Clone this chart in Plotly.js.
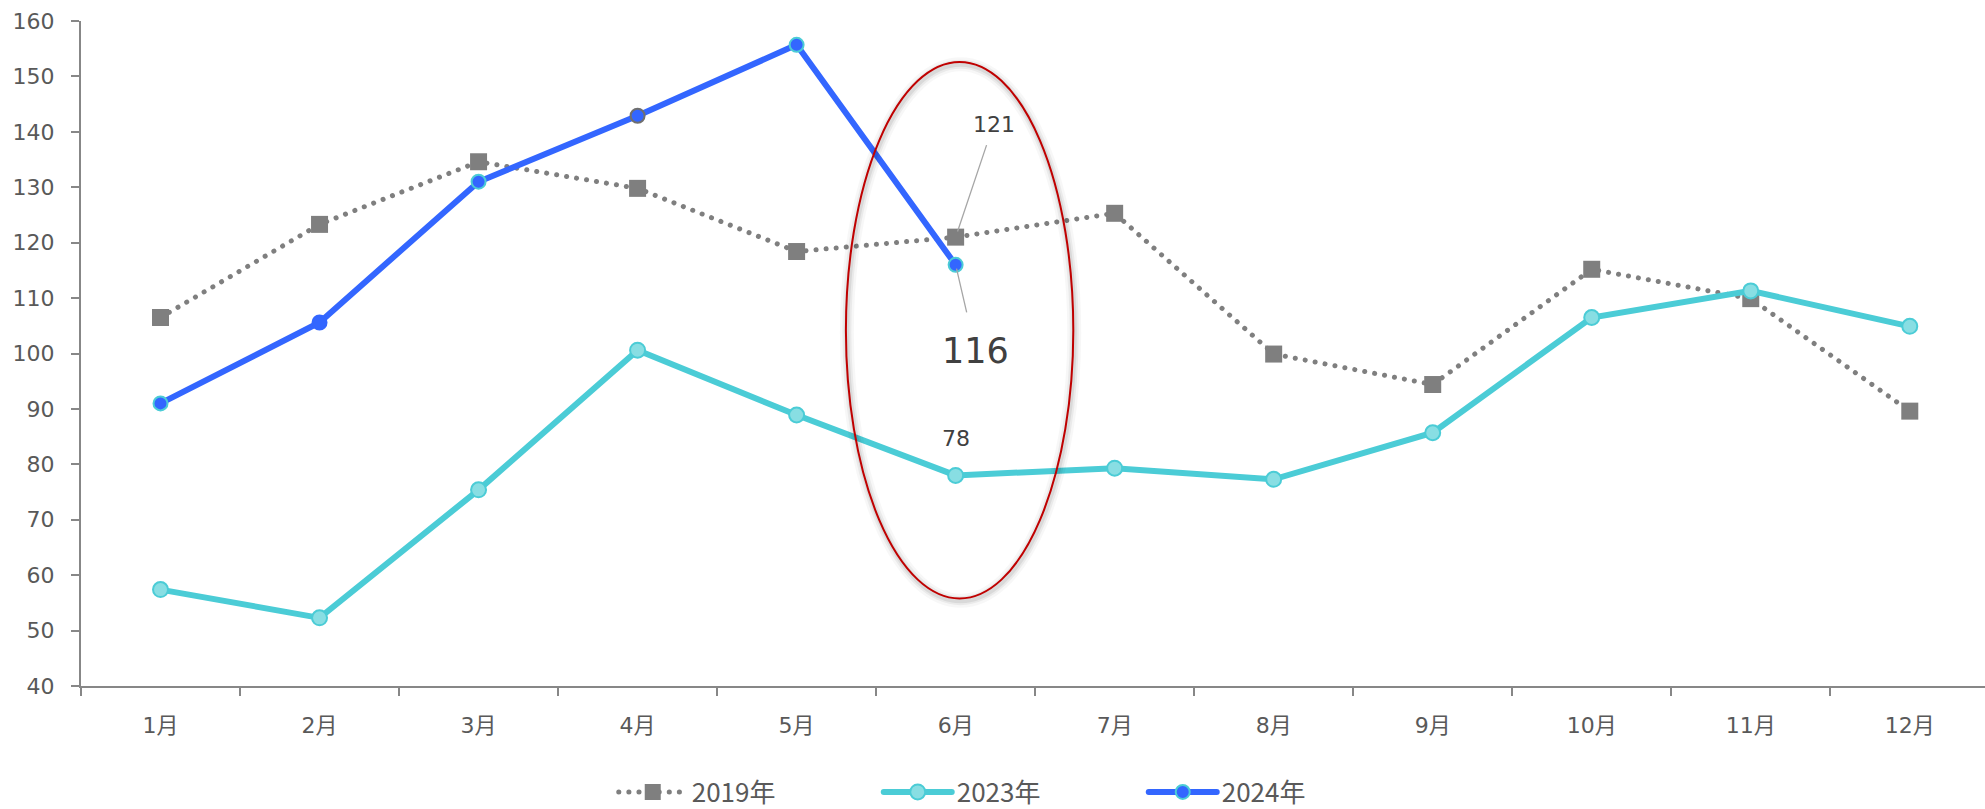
<!DOCTYPE html>
<html><head><meta charset="utf-8">
<script src="https://cdn.plot.ly/plotly-3.0.1.min.js"></script>
<style>
html,body{margin:0;padding:0;background:#fff;overflow:hidden}
#chart{width:1985px;height:809px}
.js-line{stroke-linecap:round}
</style></head><body><div id="chart"></div>
<script>
const months = ['1月','2月','3月','4月','5月','6月','7月','8月','9月','10月','11月','12月'];
const s2019 = [106.5,123.3,134.6,129.8,118.4,121,125.3,99.9,94.4,115.2,109.9,89.6];
const s2023 = [57.4,52.3,75.4,100.6,88.9,78,79.3,77.3,85.7,106.5,111.3,104.9];
const s2024 = [91,105.6,131,142.9,155.7,116];
const seriesNames = ['2019年','2023年','2024年'];
const yTicks = [40,50,60,70,80,90,100,110,120,130,140,150,160];

const FONT = 'DejaVu Sans, Verdana, Noto Sans CJK JP, sans-serif';
const hi = 5; // index of 6月 highlighted

const traces = [
  {x: months, y: s2019, name: seriesNames[0], type:'scatter', mode:'lines+markers',
   line:{color:'#7F7F7F', width:5, dash:'0.1px,10px'},
   marker:{symbol:'square', size:17, color:'#7F7F7F'}},
  {x: months, y: s2023, name: seriesNames[1], type:'scatter', mode:'lines+markers',
   line:{color:'#4BCCD6', width:6},
   marker:{symbol:'circle', size:15, color:'#88DEE3', line:{color:'#4BCCD6', width:2}}},
  {x: months.slice(0, s2024.length), y: s2024, name: seriesNames[2], type:'scatter', mode:'lines+markers',
   line:{color:'#3366FF', width:6},
   marker:{symbol:'circle', size:14, color:'#3366FF',
     line:{color:['#4BCCD6','#3366FF','#4BCCD6','#6F6F6F','#4BCCD6','#4BCCD6'], width:2}}}
];

const ell = {x0:4.31, x1:5.74, y0:55.8, y1:152.6};
const shapes = [];
[[14,'rgba(0,0,0,0.03)'],[9,'rgba(0,0,0,0.05)'],[5,'rgba(0,0,0,0.07)']].forEach(([w,c])=>{
  shapes.push({type:'circle', xref:'x', yref:'y', x0:ell.x0+0.006, x1:ell.x1+0.006, y0:ell.y0-0.4, y1:ell.y1-0.4,
    line:{color:c, width:w}, layer:'above'});
});
shapes.push({type:'circle', xref:'x', yref:'y', x0:ell.x0, x1:ell.x1, y0:ell.y0, y1:ell.y1,
  line:{color:'#C00000', width:2}, layer:'above'});

const layout = {
  width:1985, height:809,
  margin:{l:81, r:0, t:21, b:123, autoexpand:false},
  paper_bgcolor:'#fff', plot_bgcolor:'#fff',
  font:{family:FONT, color:'#595959', size:22},
  showlegend:true,
  legend:{orientation:'h', x:0.2798, xanchor:'left', y:-0.1594, yanchor:'middle',
    font:{family:'Noto Sans CJK JP, sans-serif', size:26, color:'#595959'},
    itemwidth:68, entrywidth:182, entrywidthmode:'pixels', bgcolor:'rgba(0,0,0,0)',
    tracegroupgap:0},
  xaxis:{type:'category', range:[-0.5, 11.473], showgrid:false, zeroline:false,
    showline:true, linecolor:'#878787', linewidth:2,
    ticks:'outside', tickson:'boundaries', ticklen:8, tickwidth:2, tickcolor:'#878787',
    ticklabelstandoff:19, tickfont:{family:FONT, size:22, color:'#595959'}},
  yaxis:{range:[40,160], tickvals:yTicks, showgrid:false, zeroline:false,
    showline:true, linecolor:'#878787', linewidth:2,
    ticks:'outside', ticklen:8, tickwidth:2, tickcolor:'#878787',
    ticklabelstandoff:12, tickfont:{family:FONT, size:22, color:'#595959'}},
  shapes: shapes,
  annotations:[
    {x:months[hi], y:s2019[hi], xref:'x', yref:'y', text:String(s2019[hi]),
     showarrow:true, arrowhead:0, arrowwidth:1.3, arrowcolor:'#A6A6A6', ax:38, ay:-113,
     standoff:6, borderpad:8, font:{family:FONT, size:22, color:'#404040'}},
    {x:months[hi], y:s2024[hi], xref:'x', yref:'y', text:String(s2024[hi]),
     showarrow:true, arrowhead:0, arrowwidth:1.3, arrowcolor:'#A6A6A6', ax:20, ay:86,
     standoff:4, borderpad:18, font:{family:FONT, size:35, color:'#404040'}},
    {x:months[hi], y:s2023[hi], xref:'x', yref:'y', text:String(s2023[hi]),
     showarrow:false, yshift:37, font:{family:FONT, size:22, color:'#404040'}}
  ]
};

Plotly.newPlot('chart', traces, layout, {staticPlot:true, displayModeBar:false});
</script></body></html>
